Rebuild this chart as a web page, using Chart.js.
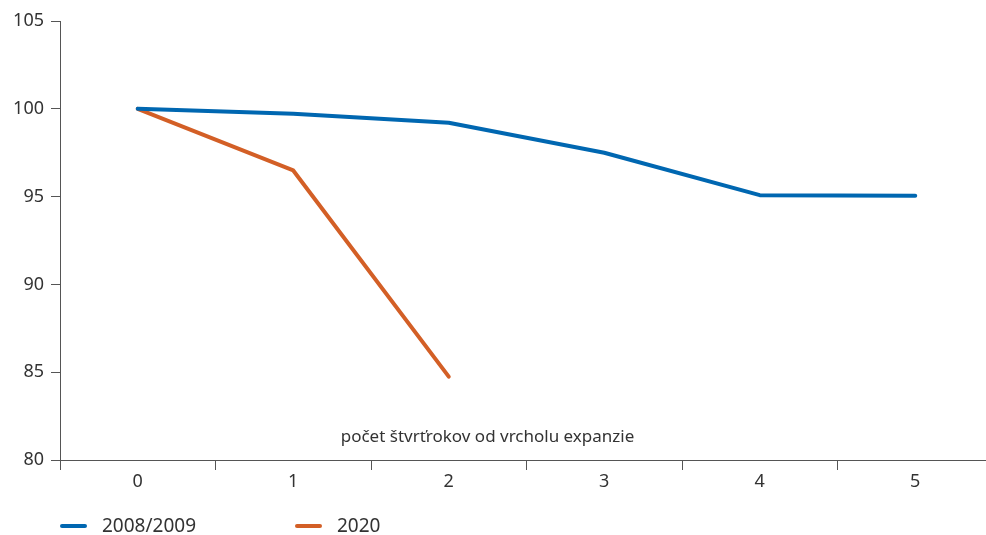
<!DOCTYPE html>
<html><head><meta charset="utf-8">
<script src="https://cdn.jsdelivr.net/npm/chart.js@4/dist/chart.umd.min.js"></script>
<style>
html,body{margin:0;padding:0;background:#fff;overflow:hidden;}
#wrap{position:absolute;left:0;top:0;width:1000px;height:535px;}
</style></head>
<body>
<div id="wrap"><canvas id="c"></canvas></div>
<script>
const categories = ['0','1','2','3','4','5'];
const series2008 = [100, 99.72, 99.21, 97.5, 95.08, 95.05];
const series2020 = [100, 96.49, 84.75, null, null, null];
const seriesLabels = ['2008/2009', '2020'];
const seriesColors = ['#0067b1', '#d35f26'];
const xTitle = 'počet štvrťrokov od vrcholu expanzie';
const yTicks = [80, 85, 90, 95, 100, 105];

const FONT = '"Noto Sans", "Open Sans", sans-serif';
const TXT = '#333333';

const extras = {
  id: 'extras',
  afterDraw(chart) {
    const ctx = chart.ctx;
    const a = chart.chartArea;
    ctx.save();
    ctx.fillStyle = TXT;
    ctx.font = '17px ' + FONT;
    ctx.textAlign = 'center';
    ctx.textBaseline = 'middle';
    ctx.fillText(xTitle, a.left + 427.5, a.bottom - 23);
    // legend
    ctx.font = '19px ' + FONT;
    const xs = [60, 295];
    chart.data.datasets.forEach((ds, i) => {
      const x = xs[i], y = 526;
      ctx.strokeStyle = ds.borderColor;
      ctx.lineWidth = 4;
      ctx.lineCap = 'round';
      ctx.beginPath(); ctx.moveTo(x + 2, y); ctx.lineTo(x + 25, y); ctx.stroke();
      ctx.textAlign = 'left';
      ctx.fillText(ds.label, x + 42, y + 1);
    });
    ctx.restore();
  }
};

new Chart(document.getElementById('c'), {
  type: 'line',
  data: {
    labels: categories,
    datasets: [
      {label: seriesLabels[0], data: series2008, borderColor: seriesColors[0], backgroundColor: seriesColors[0], borderWidth: 4, pointRadius: 0, tension: 0, borderCapStyle: 'round', borderJoinStyle: 'round', spanGaps: false},
      {label: seriesLabels[1], data: series2020, borderColor: seriesColors[1], backgroundColor: seriesColors[1], borderWidth: 4, pointRadius: 0, tension: 0, borderCapStyle: 'round', borderJoinStyle: 'round', spanGaps: false}
    ]
  },
  options: {
    responsive: true,
    maintainAspectRatio: false,
    animation: false,
    layout: {padding: {left: 0, right: 7, top: 21, bottom: 0}},
    plugins: {legend: {display: false}, tooltip: {enabled: false}},
    scales: {
      x: {
        offset: true,
        grid: {offset: true, drawOnChartArea: false, drawTicks: true, tickLength: 10, color: '#555', lineWidth: 1},
        border: {display: true, color: '#555', width: 1},
        ticks: {color: TXT, font: {size: 18, family: FONT}, padding: 1, maxRotation: 0},
        afterFit: s => { s.height = 75; }
      },
      y: {
        min: 80, max: 105,
        afterBuildTicks: s => { s.ticks = yTicks.map(v => ({value: v})); },
        grid: {drawOnChartArea: false, drawTicks: true, tickLength: 9, color: '#555', lineWidth: 1},
        border: {display: true, color: '#555', width: 1},
        ticks: {color: TXT, font: {size: 18, family: FONT}, padding: 7},
        afterFit: s => { s.width = 60; }
      }
    }
  },
  plugins: [extras]
});
</script>
</body></html>
